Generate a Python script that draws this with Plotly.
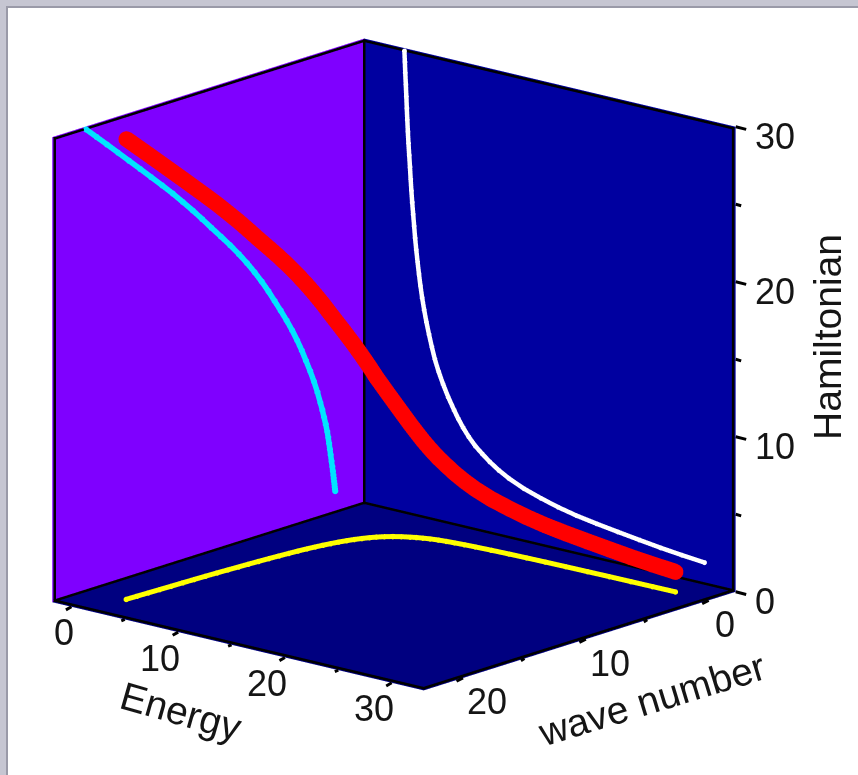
import plotly.graph_objects as go

energy = [2.2, 2.24, 2.28, 2.33, 2.38, 2.42, 2.47, 2.52, 2.58, 2.65, 2.72, 2.78, 2.85, 2.93, 3.02, 3.11, 3.2,
          3.31, 3.43, 3.56, 3.7, 3.86, 4.05, 4.26, 4.5, 4.76, 5.04, 5.4, 5.82, 6.3, 6.85, 7.25, 7.7, 8.22,
          8.85, 9.5, 10.2, 11.05, 11.99, 13.4, 15.0, 16.6, 18.3, 20.2, 22.2, 24.2, 26.2, 28.2, 30.3]
wave_number = [20.65, 19.8, 18.95, 18.05, 17.15, 16.25, 15.36, 14.47, 13.6, 12.78, 11.97, 11.2, 10.45, 9.68, 8.93,
               8.22, 7.55, 6.93, 6.35, 5.81, 5.31, 4.81, 4.33, 3.88, 3.47, 3.09, 2.75, 2.41, 2.1, 1.82, 1.58, 1.42,
               1.28, 1.14, 1.02, 0.94, 0.87, 0.80, 0.74, 0.67, 0.61, 0.56, 0.52, 0.49, 0.46, 0.43, 0.41, 0.39, 0.37]
hamiltonian = [29.9, 29.2, 28.5, 27.75, 27.0, 26.25, 25.5, 24.75, 24.0, 23.25, 22.5, 21.75, 21.0, 20.25, 19.5,
               18.75, 18.0, 17.25, 16.5, 15.75, 15.0, 14.25, 13.5, 12.75, 12.0, 11.25, 10.5, 9.75, 9.0, 8.25, 7.5,
               7.0, 6.5, 6.0, 5.5, 5.1, 4.7, 4.3, 3.93, 3.5, 3.14, 2.83, 2.57, 2.35, 2.15, 1.96, 1.78, 1.63, 1.5]

energy_range = [-1.8, 33.0]
wave_range = [-2.2, 23.2]
ham_range = [0, 30]
energy_ticks = [0, 5, 10, 15, 20, 25, 30]
wave_ticks = [0, 5, 10, 15, 20]
ham_ticks = [0, 5, 10, 15, 20, 25, 30]
n = len(energy)
FONT = "Liberation Sans, Arial, sans-serif"
TEXT = "#151515"

def curve(x, y, z, color, width, name, dot=0):
    return go.Scatter3d(x=x, y=y, z=z, mode="lines+markers" if dot else "lines", name=name, showlegend=False,
                        hoverinfo="skip", line=dict(color=color, width=width),
                        marker=dict(color=color, size=dot, line=dict(width=0)) if dot else None)

fig = go.Figure()
k0, k1 = wave_range
e0, e1 = energy_range
h0, h1 = ham_range
# edges and projections sit a hair inside the box so they do not z-fight with the walls
eps_e, eps_k, eps_h = 0.12, 0.1, 0.1
ke0, ke1 = k0 + eps_k, k1 - eps_k
ee0, ee1 = e0 + eps_e, e1 - eps_e
he0, he1 = h0 + eps_h, h1 - eps_h
edges = [
    ([k0, k1], [ee0, ee0], [he1, he1]), ([ke0, ke0], [e0, e1], [he1, he1]),
    ([ke0, ke0], [ee0, ee0], [h0, h1]), ([ke1, ke1], [ee0, ee0], [h0, h1]), ([ke0, ke0], [ee1, ee1], [h0, h1]),
    ([k0, k1], [ee0, ee0], [he0, he0]), ([ke0, ke0], [e0, e1], [he0, he0]),
    ([k0, k1], [ee1, ee1], [he0, he0]), ([ke1, ke1], [e0, e1], [he0, he0]),
]
for ex, ey, ez in edges:
    fig.add_trace(curve(ex, ey, ez, "black", 5, "edge"))

fig.add_trace(curve(wave_number, [ee0 + eps_e] * n, hamiltonian, "#00E5FF", 11, "k-H", dot=3.6))
fig.add_trace(curve([ke0 + eps_k] * n, energy, hamiltonian, "white", 9, "E-H", dot=2.9))
fig.add_trace(curve(wave_number, energy, [he0 + eps_h] * n, "#FFFF00", 10, "k-E", dot=3.2))
fig.add_trace(curve(wave_number, energy, hamiltonian, "#FF0000", 32, "dispersion", dot=9.2))

def axis(rng, ticks, bg):
    return dict(title=dict(text=""), range=rng, tickmode="array", tickvals=ticks,
                showticklabels=False, ticks="", showgrid=False, zeroline=False,
                showspikes=False, showline=False, showbackground=True, backgroundcolor=bg)

def tick(x, y, z, ax, ay):
    return dict(x=x, y=y, z=z, text="", showarrow=True, arrowhead=0, arrowwidth=3,
                arrowcolor="black", ax=ax, ay=ay, standoff=0)

def label(x, y, z, text, size, dx, dy, angle=0, anchor="center"):
    return dict(x=x, y=y, z=z, text=text, showarrow=False, xshift=dx, yshift=-dy, textangle=angle,
                xanchor=anchor, yanchor="middle", font=dict(family=FONT, size=size, color=TEXT))

ann = []
for v in ham_ticks:
    major = v % 10 == 0
    ann.append(tick(k0, e1, v, 12 if major else 7, 3 if major else 2))
    if major:
        ann.append(label(k0, e1, v, str(v), 36, 17, 10, anchor="left"))
for v in energy_ticks:
    major = v % 10 == 0
    ann.append(tick(k1, v, h0, -7 if major else -5, 4 if major else 2))
    if major:
        ann.append(label(k1, v, h0, str(v), 36, -7 if v == 0 else -18, 26))
for v in wave_ticks:
    major = v % 10 == 0
    ann.append(tick(v, e1, h0, -8 if major else -5, 4 if major else 3))
    if major:
        ann.append(label(v, e1, h0, str(v), 36, 16 if v == 0 else 24, 24))
ann.append(label(k1, 15.6, h0, "Energy", 39, -57, 65, angle=16))
ann.append(label(10.5, e1, h0, "wave number", 39, 72, 58, angle=-17))
ann.append(label(k0, e1, 15, "Hamiltonian", 39, 92, -22, angle=-90))

# view direction read from the box edges: azimuth 40.9 deg, elevation 15.9 deg
R = 1.527
view = (0.7265, 0.6297, 0.2738)
center = (-0.0521, 0.0896, -0.0678)
fig.update_layout(
    width=850, height=767, margin=dict(l=0, r=0, t=0, b=0),
    paper_bgcolor="white", showlegend=False,
    scene=dict(
        domain=dict(x=[0, 1], y=[0, 1]), bgcolor="white",
        xaxis=axis(wave_range, wave_ticks, "#0000A0"),
        yaxis=axis(energy_range, energy_ticks, "#7F00FF"),
        zaxis=axis(ham_range, ham_ticks, "#000080"),
        aspectmode="manual", aspectratio=dict(x=1.242, y=1.282, z=1.261),
        camera=dict(projection=dict(type="orthographic"),
                    up=dict(x=0, y=0, z=1),
                    center=dict(x=center[0], y=center[1], z=center[2]),
                    eye=dict(x=center[0] + R * view[0], y=center[1] + R * view[1], z=center[2] + R * view[2])),
        annotations=ann,
    ),
)
fig.write_html("out.html", config=dict(displayModeBar=False),
               post_script="document.body.style.cssText='margin:6px 0 0 6px;background:#C6C6D2;overflow:hidden';"
                           "var d=document.querySelector('.plotly-graph-div');d.style.borderTop='2px solid #9A9AA8';d.style.borderLeft='2px solid #9A9AA8';")
